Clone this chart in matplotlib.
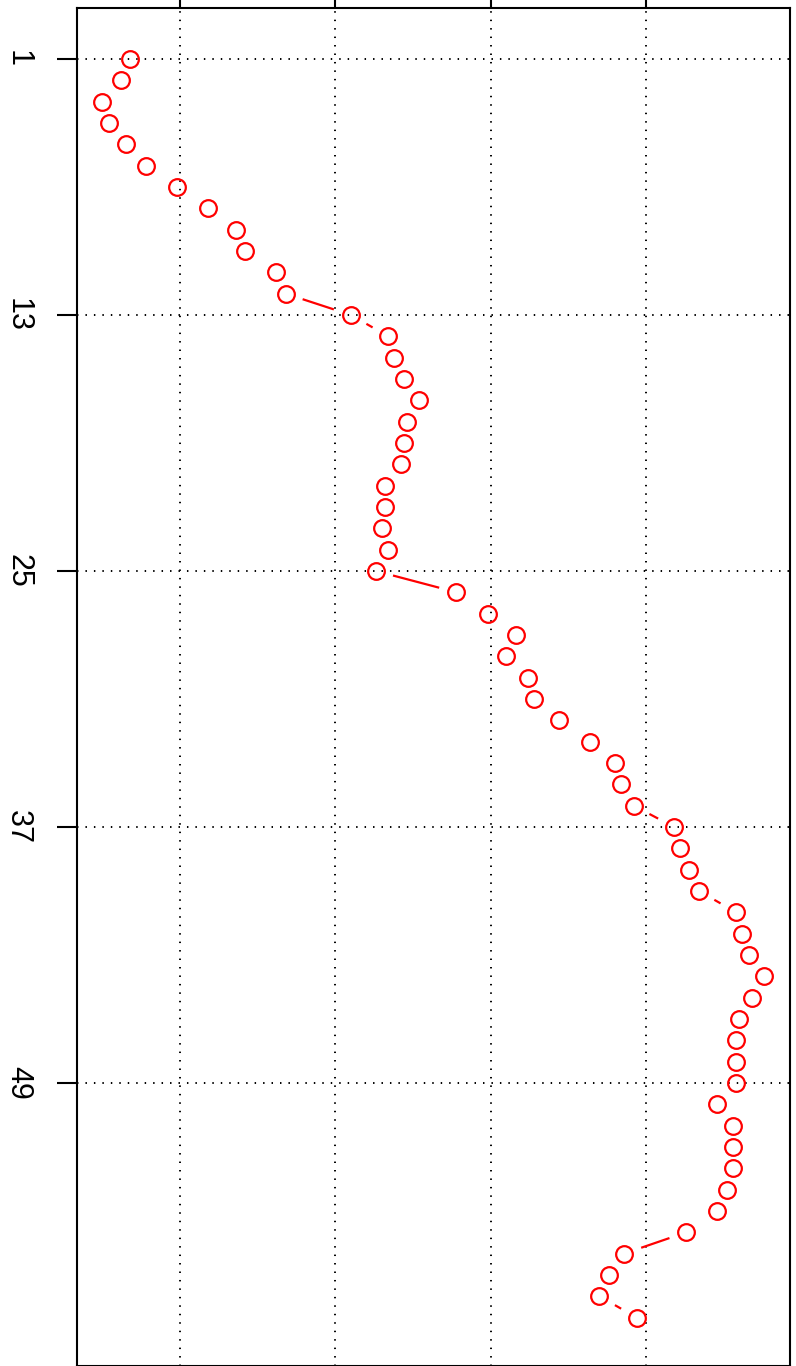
import numpy as np
import matplotlib
matplotlib.use("Agg")
import matplotlib.pyplot as plt
from matplotlib.lines import Line2D

plt.rcParams['font.family'] = ['Liberation Sans', 'DejaVu Sans']

# Data: index (vertical, top to bottom) and value (horizontal)
index = list(range(1, 61))
values = [
    0.68, 0.62, 0.50, 0.54, 0.65, 0.78, 0.98, 1.18, 1.36, 1.42,
    1.62, 1.68, 2.10, 2.34, 2.38, 2.44, 2.54, 2.46, 2.44, 2.42,
    2.32, 2.32, 2.30, 2.34, 2.26, 2.78, 2.98, 3.16, 3.10, 3.24,
    3.28, 3.44, 3.64, 3.80, 3.84, 3.92, 4.18, 4.22, 4.28, 4.34,
    4.58, 4.62, 4.66, 4.76, 4.68, 4.60, 4.58, 4.58, 4.58, 4.46,
    4.56, 4.56, 4.56, 4.52, 4.46, 4.26, 3.86, 3.76, 3.70, 3.94,
]
ytick_vals = [1, 13, 25, 37, 49]
xtick_vals = [1, 2, 3, 4]

W, H, DPI = 796, 1366, 100
fig = plt.figure(figsize=(W / DPI, H / DPI), dpi=DPI)
ax = fig.add_axes([77 / W, 0.0, (790 - 77) / W, 1 - 8 / H])

ax.set_xlim(0.337, 4.927)
ax.set_ylim(62.27, -1.39)

# grid
for xv in xtick_vals:
    ax.axvline(xv, color='black', lw=1.4, linestyle=(0, (0.75, 3.6)), zorder=1)
for yv in ytick_vals:
    ax.axhline(yv, color='black', lw=1.4, linestyle=(0, (0.75, 3.6)), zorder=1)

# points
ax.plot(values, index, linestyle='none', marker='o', ms=12, mfc='none',
        mec='red', mew=1.6, zorder=3)

# R type="b" style connecting segments with gaps around points
fig.canvas.draw()
trans = ax.transData
inv = trans.inverted()
pts = trans.transform(np.column_stack([values, index]))
gap = 19.0
for (x0, y0), (x1, y1) in zip(pts[:-1], pts[1:]):
    d = np.hypot(x1 - x0, y1 - y0)
    if d > 2 * gap:
        ux, uy = (x1 - x0) / d, (y1 - y0) / d
        a = inv.transform((x0 + ux * gap, y0 + uy * gap))
        b = inv.transform((x1 - ux * gap, y1 - uy * gap))
        ax.add_line(Line2D([a[0], b[0]], [a[1], b[1]], color='red', lw=1.6, zorder=2))

# axes styling
for s in ax.spines.values():
    s.set_linewidth(1.5)
    s.set_color('black')

ax.set_yticks(ytick_vals)
ax.set_yticklabels([str(v) for v in ytick_vals], rotation=-90, va='center', ha='center')
ax.tick_params(axis='y', direction='out', length=14.4, width=1.5, labelsize=22, pad=28)

ax.set_xticks(xtick_vals)
ax.xaxis.set_ticks_position('top')
ax.tick_params(axis='x', direction='out', length=14.4, width=1.5, labeltop=False,
               labelbottom=False)

fig.savefig('out.png', dpi=DPI)
